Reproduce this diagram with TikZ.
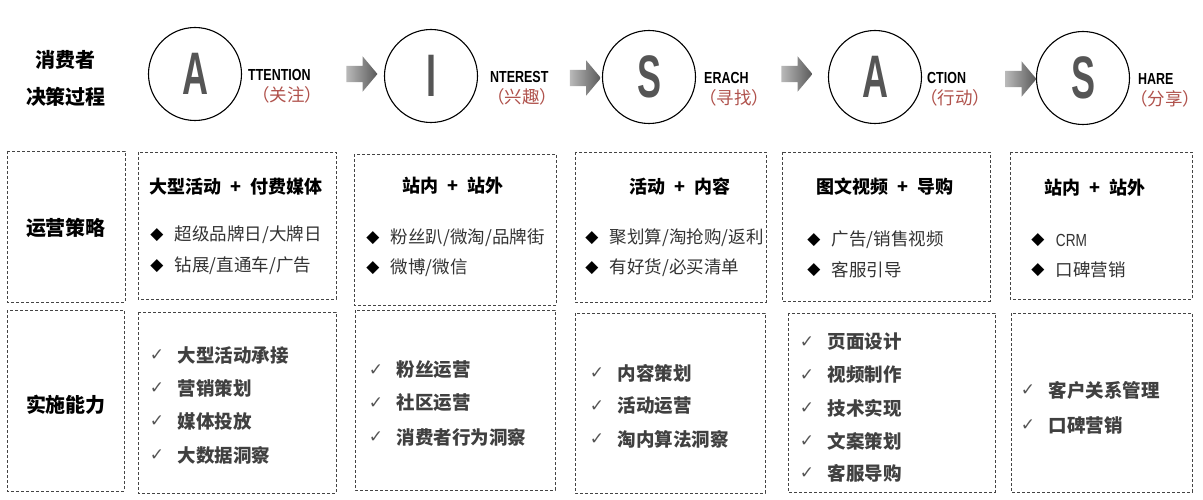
\documentclass[tikz,border=0pt]{standalone}
\usepackage{fontspec}
\setmainfont{Noto Sans CJK SC}
\newfontfamily\narrowfont[FakeStretch=0.78]{Liberation Sans}
\newfontfamily\letterfont[FakeStretch=0.6]{Liberation Sans}
\newfontfamily\symbolfont{DejaVu Sans}
\usetikzlibrary{positioning}
\usetikzlibrary{shapes.arrows}
\definecolor{tagred}{RGB}{176,82,76}
\definecolor{lettergray}{RGB}{85,85,85}
\definecolor{itemgray}{RGB}{51,51,51}
\definecolor{skillgray}{RGB}{64,64,64}
\definecolor{dashgray}{RGB}{68,68,68}

\begin{document}
\begin{tikzpicture}[x=1pt, y=-1pt,
  stage/.style={circle, draw, line width=1.1pt, minimum size=93pt, inner sep=0pt, text=lettergray, font=\letterfont\bfseries\fontsize{60}{60}\selectfont},
  engtag/.style={anchor=west, inner sep=0pt, font=\narrowfont\bfseries\fontsize{16}{17}\selectfont},
  cntag/.style={anchor=west, inner sep=0pt, text=tagred, font=\fontsize{17.5}{18}\selectfont},
  flow/.style={single arrow, draw=none, minimum height=31pt, inner sep=8pt, single arrow head extend=9.5pt, single arrow tip angle=100, left color=gray!55, right color=black!65},
  dbox/.style={draw=dashgray, dash pattern=on 3pt off 2pt, line width=0.9pt},
  rowhead/.style={inner sep=0pt, font=\bfseries\fontsize{20}{22}\selectfont},
  boxhead/.style={inner sep=0pt, font=\bfseries\fontsize{18}{20}\selectfont},
  tactic/.style={anchor=west, inner sep=0pt, text=itemgray, font=\fontsize{17.5}{19}\selectfont},
  skill/.style={anchor=west, inner sep=0pt, text=skillgray, font=\bfseries\fontsize{18.5}{20}\selectfont},
  bullet/.style={inner sep=0pt, font=\symbolfont\fontsize{17}{17}\selectfont},
  tick/.style={inner sep=0pt, text=lettergray, font=\symbolfont\fontsize{17}{17}\selectfont}]

\fill[white] (0,0) rectangle (1203,500);
\useasboundingbox (0,0) rectangle (1203,500);

% row titles
\node[rowhead] (rh1) at (65,60) {消费者};
\node[rowhead] (rh2) at (66,97) {决策过程};
\node[rowhead] (rh3) at (66,228) {运营策略};
\node[rowhead] (rh4) at (66,405) {实施能力};

% AISAS stages
\foreach \cx/\cy/\L/\eng/\cn/\ex/\nx [count=\i] in {195/74/A/TTENTION/关注/248/252, 431/76/I/NTEREST/兴趣/490/487, 649/77/S/ERACH/寻找/704/699, 875/77/A/CTION/行动/927/920, 1083/78/S/HARE/分享/1138/1130}
{
 \node[stage] (st\i) at (\cx,\cy) {\L};
 \node[engtag] (en\i) at (\ex,\cy+1) {\eng};
 \node[cntag] (cn\i) at (\nx,\cy+21) {（\cn{}）};
}
\foreach \ax/\ay [count=\i] in {358.5/74, 582/78, 793.5/74, 1017.5/79}
 \node[flow] (fl\i) at (\ax,\ay) {};

% dashed frames
\foreach \xa/\ya/\xb/\yb in {7/151/125/302, 138/152/336/299, 354/154/556/305, 575/152/766/302, 782/152/990/301, 1010/152/1192/299,
  7/310/124/491, 138/312/336/493, 355/310/555/490, 575/313/765/493, 788/313/995/492, 1011/313/1192/492}
 \draw[dbox] (\xa,\ya) rectangle (\xb,\yb);

% strategy
\foreach \hx/\hy/\htext [count=\i] in {236/187/{大型活动\enspace +\enspace 付费媒体}, 453/186/{站内\enspace +\enspace 站外}, 680/187/{活动\enspace +\enspace 内容}, 885/187/{图文视频\enspace +\enspace 导购}, 1095/188/{站内\enspace +\enspace 站外}}
 \node[boxhead] (bh\i) at (\hx,\hy) {\htext};

\foreach \bx/\by/\txt [count=\i] in {157/235/{超级品牌日/大牌日}, 157/266/{钻展/直通车/广告},
  373/238/{粉丝趴/微淘/品牌街}, 373/268/{微博/微信},
  592/238/{聚划算/淘抢购/返利}, 592/268/{有好货/必买清单},
  814/240/{广告/销售视频}, 814/270/{客服引导},
  1038/240/{\narrowfont CRM}, 1038/270/{口碑营销}}
{
 \node[bullet] (bl\i) at (\bx,\by) {◆};
 \node[tactic, right=11pt of bl\i] (tc\i) {\txt};
}

% capability
\foreach \kx/\ky/\txt [count=\i] in {157/355/大型活动承接, 157/388/营销策划, 157/421/媒体投放, 157/455/大数据洞察,
  376/370/粉丝运营, 376/403/社区运营, 376/437/消费者行为洞察,
  597/373/内容策划, 597/406/活动运营, 597/439/淘内算法洞察,
  807/342/页面设计, 807/375/视频制作, 807/408/技术实现, 807/441/文案策划, 807/473/客服导购,
  1028/390/客户关系管理, 1028/425/口碑营销}
{
 \node[tick] (ck\i) at (\kx,\ky) {✓};
 \node[skill, right=13pt of ck\i] (sk\i) {\txt};
}

\end{tikzpicture}
\end{document}
